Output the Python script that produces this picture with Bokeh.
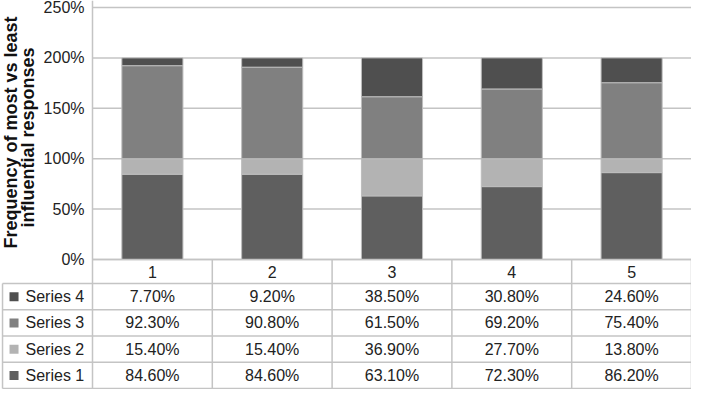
import math
from bokeh.plotting import figure
from bokeh.models import ColumnDataSource, Range1d
from bokeh.core.properties import value
from bokeh.embed import file_html
from bokeh.resources import INLINE

# ---- data ----
categories = ["1", "2", "3", "4", "5"]
series_names = ["Series 1", "Series 2", "Series 3", "Series 4"]
series1 = [84.6, 84.6, 63.1, 72.3, 86.2]
series2 = [15.4, 15.4, 36.9, 27.7, 13.8]
series3 = [92.3, 90.8, 61.5, 69.2, 75.4]
series4 = [7.7, 9.2, 38.5, 30.8, 24.6]
y_ticks = [0, 50, 100, 150, 200, 250]
y_tick_labels = ["0%", "50%", "100%", "150%", "200%", "250%"]
y_title = ["Frequency of most vs least", "influential responses"]

colors = ["#5f5f5f", "#b3b3b3", "#808080", "#4f4f4f"]
FONT = "Liberation Sans"
TXT = "#222222"
LINE = "#c4c4c4"

W, H = 691, 389
px_per_cat = 599 / 5.0
x_start = -92 / px_per_cat
px_per_pct = 252 / 250.0
top_px = 7
y_end = 250 + top_px / px_per_pct
y_start = 250 - (H - top_px) / px_per_pct

p = figure(width=W, height=H, output_backend="svg", toolbar_location=None,
           x_axis_type=None, y_axis_type=None,
           x_range=Range1d(x_start, 5), y_range=Range1d(y_start, y_end),
           min_border=0, outline_line_color=None)
p.xgrid.visible = False
p.ygrid.visible = False
p.background_fill_color = "white"

xs = [i + 0.5 for i in range(len(categories))]

# gridlines
p.segment(x0=[0] * len(y_ticks), x1=[5] * len(y_ticks), y0=y_ticks, y1=y_ticks,
          line_color=LINE, line_width=1.5)

# stacked bars
src = ColumnDataSource(dict(x=xs, s1=series1, s2=series2, s3=series3, s4=series4))
p.vbar_stack(["s1", "s2", "s3", "s4"], x="x", width=0.51, source=src,
             fill_color=colors, line_color="#bdbdbd", line_width=1)

# table geometry (in % units below the 0 line)
left_col = -0.751
row_h_head = 24 / px_per_pct
row_h = 26.25 / px_per_pct
bounds = [0, -row_h_head]
for i in range(4):
    bounds.append(bounds[-1] - row_h)
table_bottom = bounds[-1]

# horizontal table lines
p.segment(x0=[0], x1=[5], y0=[0], y1=[0], line_color=LINE, line_width=1.5)
p.segment(x0=[left_col] * 5, x1=[5] * 5, y0=bounds[1:], y1=bounds[1:],
          line_color=LINE, line_width=1.5)
# vertical lines
p.segment(x0=[0], x1=[0], y0=[y_end], y1=[table_bottom], line_color=LINE, line_width=1.5)
p.segment(x0=[1, 2, 3, 4, 5], x1=[1, 2, 3, 4, 5], y0=[0] * 5, y1=[table_bottom] * 5,
          line_color=LINE, line_width=1.5)
p.segment(x0=[left_col], x1=[left_col], y0=[bounds[1]], y1=[table_bottom],
          line_color=LINE, line_width=1.5)

# y tick labels
tick_x = -8 / px_per_cat
p.text(x=[tick_x] * len(y_ticks), y=y_ticks, text=y_tick_labels,
       text_align="right", text_baseline="middle", text_font=value(FONT),
       text_font_size="16px", text_color=TXT)

# y title (two lines, rotated)
p.text(x=[(10 - 92) / px_per_cat, (27 - 92) / px_per_cat], y=[126, 121],
       text=y_title, angle=math.pi / 2,
       text_align="center", text_baseline="middle", text_font=value(FONT),
       text_font_size="18px", text_font_style="bold", text_color="#111111")

# header labels
head_y = (bounds[0] + bounds[1]) / 2
p.text(x=xs, y=[head_y] * 5, text=categories, text_align="center",
       text_baseline="middle", text_font=value(FONT), text_font_size="16px",
       text_color=TXT)

# table rows (top row is Series 4)
row_series = [series4, series3, series2, series1]
row_names = [series_names[3], series_names[2], series_names[1], series_names[0]]
row_colors = [colors[3], colors[2], colors[1], colors[0]]
cx, cy, ct = [], [], []
mx, my, mc, nx, ny, nt = [], [], [], [], [], []
for r, (vals, name, col) in enumerate(zip(row_series, row_names, row_colors)):
    yc = (bounds[r + 1] + bounds[r + 2]) / 2
    for x, v in zip(xs, vals):
        cx.append(x); cy.append(yc); ct.append(f"{v:.2f}%")
    mx.append(-0.655); my.append(yc); mc.append(col)
    nx.append(-0.559); ny.append(yc); nt.append(name)

p.text(x=cx, y=cy, text=ct, text_align="center", text_baseline="middle",
       text_font=value(FONT), text_font_size="16px", text_color=TXT)
p.scatter(x=mx, y=my, marker="square", size=9, fill_color=mc, line_color=None)
p.text(x=nx, y=ny, text=nt, text_align="left", text_baseline="middle",
       text_font=value(FONT), text_font_size="16px", text_color=TXT)

open("out.html", "w").write(file_html(p, INLINE))
